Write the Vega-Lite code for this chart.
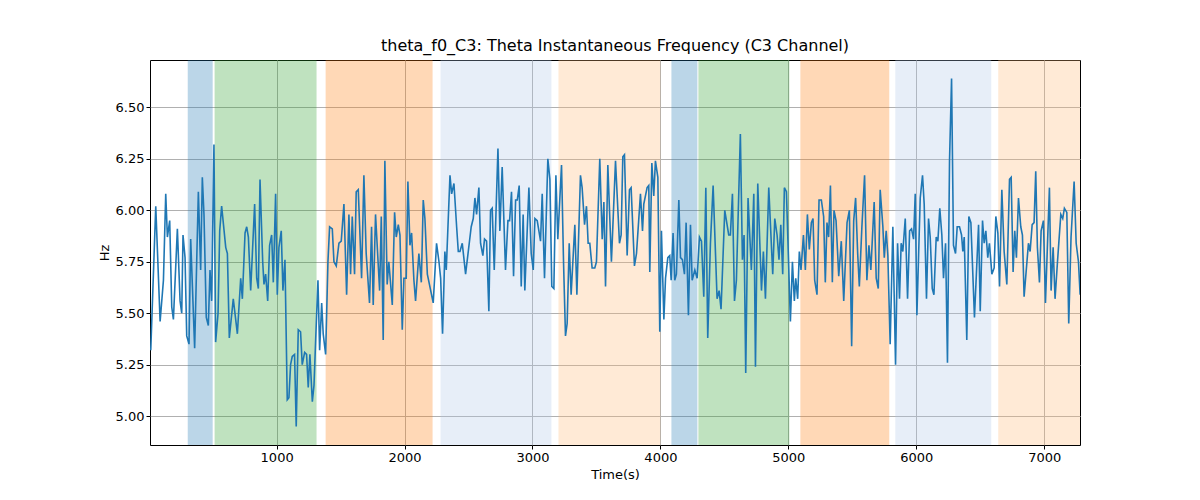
{
  "$schema": "https://vega.github.io/schema/vega-lite/v6.json",
  "width": 930,
  "height": 385,
  "autosize": "none",
  "padding": {"left": 150, "top": 60, "right": 120, "bottom": 55},
  "config": {
    "font": "DejaVu Sans",
    "view": {"stroke": "#000", "strokeWidth": 1},
    "axis": {"grid": true, "gridColor": "#b0b0b0", "gridWidth": 1, "domain": false, "tickColor": "#000", "tickSize": 4, "labelColor": "#000", "labelFontSize": 13, "titleFontSize": 13, "titleFontWeight": "normal", "titleColor": "#000"}
  },
  "title": {"text": "theta_f0_C3: Theta Instantaneous Frequency (C3 Channel)", "fontSize": 16, "fontWeight": "normal", "color": "#000", "offset": 6},
  "datasets": {
    "regions": [
      {"start": 305, "end": 500, "c": "a"},
      {"start": 515, "end": 1312, "c": "b"},
      {"start": 1383, "end": 2219, "c": "c"},
      {"start": 2281, "end": 3148, "c": "d"},
      {"start": 3203, "end": 4000, "c": "e"},
      {"start": 4086, "end": 4289, "c": "a"},
      {"start": 4297, "end": 5008, "c": "b"},
      {"start": 5094, "end": 5789, "c": "c"},
      {"start": 5836, "end": 6586, "c": "d"},
      {"start": 6641, "end": 7280, "c": "e"}
    ],
    "series": [
      {"t":16,"v":5.32},{"t":55,"v":6.02},{"t":89,"v":5.46},{"t":115,"v":5.66},{"t":133,"v":6.08},{"t":146,"v":5.87},{"t":164,"v":5.95},{"t":180,"v":5.53},{"t":193,"v":5.47},{"t":224,"v":5.91},{"t":245,"v":5.56},{"t":258,"v":5.50},{"t":268,"v":5.88},{"t":284,"v":5.77},{"t":297,"v":5.39},{"t":315,"v":5.35},{"t":328,"v":5.86},{"t":359,"v":5.33},{"t":388,"v":6.09},{"t":406,"v":5.71},{"t":419,"v":6.16},{"t":432,"v":5.98},{"t":450,"v":5.48},{"t":466,"v":5.44},{"t":479,"v":5.71},{"t":492,"v":5.56},{"t":510,"v":6.32},{"t":523,"v":5.36},{"t":542,"v":5.50},{"t":555,"v":5.90},{"t":570,"v":6.02},{"t":602,"v":5.82},{"t":615,"v":5.79},{"t":630,"v":5.38},{"t":661,"v":5.57},{"t":693,"v":5.40},{"t":719,"v":5.67},{"t":732,"v":5.57},{"t":753,"v":5.89},{"t":766,"v":5.92},{"t":779,"v":5.87},{"t":797,"v":5.61},{"t":828,"v":6.03},{"t":844,"v":5.67},{"t":857,"v":5.62},{"t":870,"v":6.15},{"t":891,"v":5.75},{"t":901,"v":5.64},{"t":914,"v":5.69},{"t":930,"v":5.56},{"t":945,"v":5.83},{"t":961,"v":5.88},{"t":974,"v":5.65},{"t":992,"v":6.08},{"t":1005,"v":5.59},{"t":1018,"v":5.82},{"t":1036,"v":5.90},{"t":1049,"v":5.61},{"t":1065,"v":5.76},{"t":1083,"v":5.08},{"t":1096,"v":5.09},{"t":1109,"v":5.25},{"t":1122,"v":5.29},{"t":1140,"v":5.30},{"t":1153,"v":4.95},{"t":1169,"v":5.42},{"t":1187,"v":5.41},{"t":1200,"v":5.25},{"t":1219,"v":5.31},{"t":1234,"v":5.30},{"t":1247,"v":5.14},{"t":1260,"v":5.30},{"t":1279,"v":5.07},{"t":1292,"v":5.15},{"t":1305,"v":5.37},{"t":1323,"v":5.66},{"t":1336,"v":5.32},{"t":1352,"v":5.55},{"t":1364,"v":5.40},{"t":1383,"v":5.30},{"t":1401,"v":5.75},{"t":1414,"v":5.92},{"t":1435,"v":5.91},{"t":1448,"v":5.75},{"t":1466,"v":5.73},{"t":1487,"v":5.84},{"t":1505,"v":5.85},{"t":1526,"v":6.03},{"t":1547,"v":5.59},{"t":1565,"v":5.98},{"t":1578,"v":5.69},{"t":1591,"v":5.97},{"t":1609,"v":5.69},{"t":1622,"v":6.09},{"t":1638,"v":6.10},{"t":1664,"v":5.67},{"t":1682,"v":6.17},{"t":1700,"v":5.79},{"t":1726,"v":5.55},{"t":1742,"v":5.92},{"t":1755,"v":5.54},{"t":1773,"v":5.98},{"t":1805,"v":5.61},{"t":1818,"v":5.97},{"t":1833,"v":5.37},{"t":1846,"v":6.24},{"t":1864,"v":5.64},{"t":1877,"v":5.75},
      {"t":1904,"v":5.54},{"t":1922,"v":5.99},{"t":1935,"v":5.87},{"t":1951,"v":5.93},{"t":1964,"v":5.88},{"t":1982,"v":5.42},{"t":1995,"v":5.67},{"t":2013,"v":5.67},{"t":2026,"v":6.14},{"t":2042,"v":5.83},{"t":2055,"v":5.89},{"t":2073,"v":5.66},{"t":2086,"v":5.56},{"t":2112,"v":5.79},{"t":2131,"v":5.65},{"t":2146,"v":6.05},{"t":2159,"v":5.96},{"t":2178,"v":5.69},{"t":2224,"v":5.55},{"t":2250,"v":5.84},{"t":2269,"v":5.75},{"t":2282,"v":5.67},{"t":2297,"v":5.40},{"t":2315,"v":5.80},{"t":2326,"v":5.71},{"t":2355,"v":6.17},{"t":2368,"v":6.08},{"t":2386,"v":6.13},{"t":2407,"v":5.92},{"t":2420,"v":5.80},{"t":2433,"v":5.80},{"t":2451,"v":5.84},{"t":2477,"v":5.69},{"t":2521,"v":5.92},{"t":2537,"v":5.96},{"t":2550,"v":6.06},{"t":2563,"v":5.98},{"t":2581,"v":6.11},{"t":2594,"v":5.84},{"t":2612,"v":5.78},{"t":2625,"v":5.86},{"t":2641,"v":5.85},{"t":2659,"v":5.51},{"t":2672,"v":6.00},{"t":2685,"v":6.01},{"t":2701,"v":5.71},{"t":2730,"v":6.30},{"t":2745,"v":5.90},{"t":2763,"v":6.21},{"t":2789,"v":5.71},{"t":2808,"v":5.95},{"t":2821,"v":5.95},{"t":2836,"v":6.09},{"t":2852,"v":5.68},{"t":2868,"v":6.05},{"t":2881,"v":6.05},{"t":2896,"v":6.12},{"t":2912,"v":5.63},{"t":2927,"v":5.98},{"t":2940,"v":5.61},{"t":2972,"v":6.11},{"t":2990,"v":5.79},{"t":3006,"v":5.71},{"t":3019,"v":5.96},{"t":3037,"v":5.95},{"t":3063,"v":5.85},{"t":3076,"v":6.08},{"t":3094,"v":5.67},{"t":3120,"v":6.25},{"t":3136,"v":6.15},{"t":3151,"v":5.63},{"t":3167,"v":5.62},{"t":3183,"v":6.17},{"t":3198,"v":5.86},{"t":3227,"v":6.22},{"t":3243,"v":5.74},{"t":3258,"v":5.39},{"t":3271,"v":5.45},{"t":3287,"v":5.84},{"t":3302,"v":5.59},{"t":3331,"v":5.93},{"t":3347,"v":5.59},{"t":3375,"v":6.17},{"t":3388,"v":6.11},{"t":3407,"v":5.93},{"t":3422,"v":6.02},{"t":3435,"v":5.84},{"t":3448,"v":5.84},{"t":3466,"v":5.72},{"t":3487,"v":5.72},{"t":3500,"v":5.75},{"t":3526,"v":6.25},{"t":3545,"v":5.86},{"t":3558,"v":6.04},{"t":3571,"v":5.63},{"t":3589,"v":6.22},{"t":3617,"v":5.75},{"t":3649,"v":6.24},{"t":3680,"v":5.84},{"t":3693,"v":5.88},{"t":3706,"v":6.26},{"t":3719,"v":6.27},
      {"t":3740,"v":5.78},{"t":3758,"v":6.10},{"t":3771,"v":6.11},{"t":3797,"v":5.73},{"t":3813,"v":5.79},{"t":3844,"v":6.08},{"t":3860,"v":5.90},{"t":3870,"v":6.03},{"t":3896,"v":6.11},{"t":3909,"v":6.12},{"t":3917,"v":5.70},{"t":3933,"v":6.23},{"t":3948,"v":6.07},{"t":3961,"v":6.24},{"t":3980,"v":6.16},{"t":3995,"v":5.41},{"t":4008,"v":5.90},{"t":4027,"v":5.47},{"t":4040,"v":5.67},{"t":4058,"v":5.77},{"t":4073,"v":5.78},{"t":4084,"v":5.66},{"t":4099,"v":5.89},{"t":4112,"v":5.66},{"t":4125,"v":5.69},{"t":4144,"v":6.05},{"t":4157,"v":5.77},{"t":4172,"v":5.76},{"t":4188,"v":5.69},{"t":4201,"v":5.94},{"t":4219,"v":5.49},{"t":4235,"v":5.93},{"t":4248,"v":5.66},{"t":4269,"v":5.71},{"t":4287,"v":5.67},{"t":4305,"v":5.87},{"t":4321,"v":5.85},{"t":4339,"v":5.58},{"t":4355,"v":6.11},{"t":4370,"v":5.38},{"t":4391,"v":5.84},{"t":4412,"v":6.12},{"t":4443,"v":5.57},{"t":4459,"v":5.61},{"t":4474,"v":5.52},{"t":4503,"v":6.00},{"t":4516,"v":5.95},{"t":4534,"v":5.88},{"t":4547,"v":5.88},{"t":4563,"v":6.08},{"t":4579,"v":5.56},{"t":4594,"v":5.66},{"t":4625,"v":6.37},{"t":4641,"v":5.76},{"t":4654,"v":5.88},{"t":4667,"v":5.21},{"t":4685,"v":6.06},{"t":4711,"v":5.71},{"t":4730,"v":6.08},{"t":4743,"v":5.24},{"t":4761,"v":6.13},{"t":4790,"v":5.61},{"t":4805,"v":5.80},{"t":4821,"v":5.57},{"t":4847,"v":6.11},{"t":4878,"v":5.69},{"t":4894,"v":5.96},{"t":4912,"v":5.88},{"t":4927,"v":5.76},{"t":4941,"v":5.93},{"t":4956,"v":5.69},{"t":4969,"v":6.11},{"t":4985,"v":6.09},{"t":5016,"v":5.46},{"t":5032,"v":5.75},{"t":5047,"v":5.56},{"t":5058,"v":5.67},{"t":5073,"v":5.57},{"t":5086,"v":5.80},{"t":5099,"v":5.71},{"t":5118,"v":5.88},{"t":5133,"v":5.71},{"t":5149,"v":5.98},{"t":5164,"v":5.81},{"t":5180,"v":5.94},{"t":5193,"v":5.96},{"t":5206,"v":5.66},{"t":5224,"v":5.59},{"t":5240,"v":6.05},{"t":5258,"v":6.05},{"t":5276,"v":5.97},{"t":5289,"v":5.65},{"t":5302,"v":5.94},{"t":5315,"v":5.87},{"t":5329,"v":6.12},{"t":5344,"v":5.65},{"t":5357,"v":6.00},{"t":5373,"v":5.95},{"t":5394,"v":5.68},{"t":5414,"v":5.85},{"t":5433,"v":5.56},{"t":5459,"v":5.94},{"t":5477,"v":6.00},{"t":5495,"v":5.34},{"t":5511,"v":5.95},{"t":5526,"v":6.06},{"t":5542,"v":5.79},{"t":5555,"v":5.63},
      {"t":5575,"v":5.92},{"t":5596,"v":6.17},{"t":5614,"v":5.66},{"t":5630,"v":5.83},{"t":5645,"v":5.71},{"t":5671,"v":6.04},{"t":5687,"v":5.67},{"t":5703,"v":5.62},{"t":5718,"v":6.10},{"t":5739,"v":5.92},{"t":5750,"v":5.77},{"t":5765,"v":5.90},{"t":5778,"v":5.78},{"t":5796,"v":5.35},{"t":5817,"v":5.92},{"t":5838,"v":5.25},{"t":5854,"v":5.84},{"t":5869,"v":5.57},{"t":5882,"v":5.84},{"t":5895,"v":5.80},{"t":5914,"v":5.96},{"t":5932,"v":5.57},{"t":5948,"v":5.90},{"t":5963,"v":5.91},{"t":5979,"v":5.86},{"t":5992,"v":6.08},{"t":6005,"v":5.49},{"t":6031,"v":6.06},{"t":6049,"v":6.17},{"t":6062,"v":6.03},{"t":6080,"v":5.57},{"t":6096,"v":5.96},{"t":6109,"v":5.87},{"t":6125,"v":5.62},{"t":6138,"v":5.59},{"t":6156,"v":5.87},{"t":6169,"v":5.85},{"t":6184,"v":6.01},{"t":6200,"v":5.88},{"t":6213,"v":5.67},{"t":6229,"v":5.84},{"t":6244,"v":5.26},{"t":6260,"v":6.24},{"t":6276,"v":6.64},{"t":6291,"v":5.83},{"t":6307,"v":5.79},{"t":6320,"v":5.92},{"t":6338,"v":5.92},{"t":6354,"v":5.88},{"t":6364,"v":5.80},{"t":6375,"v":5.87},{"t":6395,"v":5.37},{"t":6411,"v":5.97},{"t":6427,"v":5.94},{"t":6455,"v":5.48},{"t":6487,"v":5.93},{"t":6500,"v":5.51},{"t":6518,"v":5.95},{"t":6531,"v":5.84},{"t":6544,"v":5.90},{"t":6559,"v":5.77},{"t":6572,"v":5.84},{"t":6591,"v":5.69},{"t":6609,"v":5.72},{"t":6622,"v":5.97},{"t":6638,"v":5.89},{"t":6651,"v":5.63},{"t":6669,"v":6.10},{"t":6687,"v":5.80},{"t":6708,"v":5.64},{"t":6729,"v":6.15},{"t":6742,"v":6.16},{"t":6757,"v":5.70},{"t":6770,"v":5.90},{"t":6783,"v":5.77},{"t":6799,"v":6.06},{"t":6817,"v":5.92},{"t":6830,"v":5.88},{"t":6843,"v":5.58},{"t":6877,"v":5.84},{"t":6890,"v":5.80},{"t":6906,"v":5.93},{"t":6921,"v":5.94},{"t":6934,"v":6.19},{"t":6947,"v":5.82},{"t":6963,"v":5.65},{"t":6976,"v":5.90},{"t":6994,"v":5.95},{"t":7010,"v":5.55},{"t":7041,"v":6.11},{"t":7054,"v":5.61},{"t":7070,"v":5.82},{"t":7085,"v":5.57},{"t":7104,"v":5.75},{"t":7130,"v":5.98},{"t":7145,"v":5.96},{"t":7158,"v":6.01},{"t":7177,"v":5.99},{"t":7192,"v":5.45},{"t":7210,"v":5.87},{"t":7234,"v":6.14},{"t":7250,"v":5.84},{"t":7268,"v":5.75},{"t":7281,"v":5.59}
    ]
  },
  "layer": [
    {
      "data": {"name": "regions"},
      "mark": {"type": "rect", "opacity": 0.3, "clip": true},
      "encoding": {
        "x": {"field": "start", "type": "quantitative", "scale": {"domain": [10, 7280], "nice": false, "zero": false}, "axis": {"title": "Time(s)", "values": [1000, 2000, 3000, 4000, 5000, 6000, 7000], "format": "d"}},
        "x2": {"field": "end"},
        "color": {"field": "c", "type": "nominal", "legend": null, "scale": {"domain": ["a", "b", "c", "d", "e"], "range": ["#1f77b4", "#2ca02c", "#ff7f0e", "#aec7e8", "#ffbb78"]}}
      }
    },
    {
      "data": {"name": "series"},
      "mark": {"type": "line", "color": "#1f77b4", "strokeWidth": 1.6, "clip": true},
      "encoding": {
        "x": {"field": "t", "type": "quantitative"},
        "y": {"field": "v", "type": "quantitative", "scale": {"domain": [4.86, 6.73], "nice": false, "zero": false}, "axis": {"title": "Hz", "values": [5.0, 5.25, 5.5, 5.75, 6.0, 6.25, 6.5], "format": ".2f"}}
      }
    }
  ]
}
